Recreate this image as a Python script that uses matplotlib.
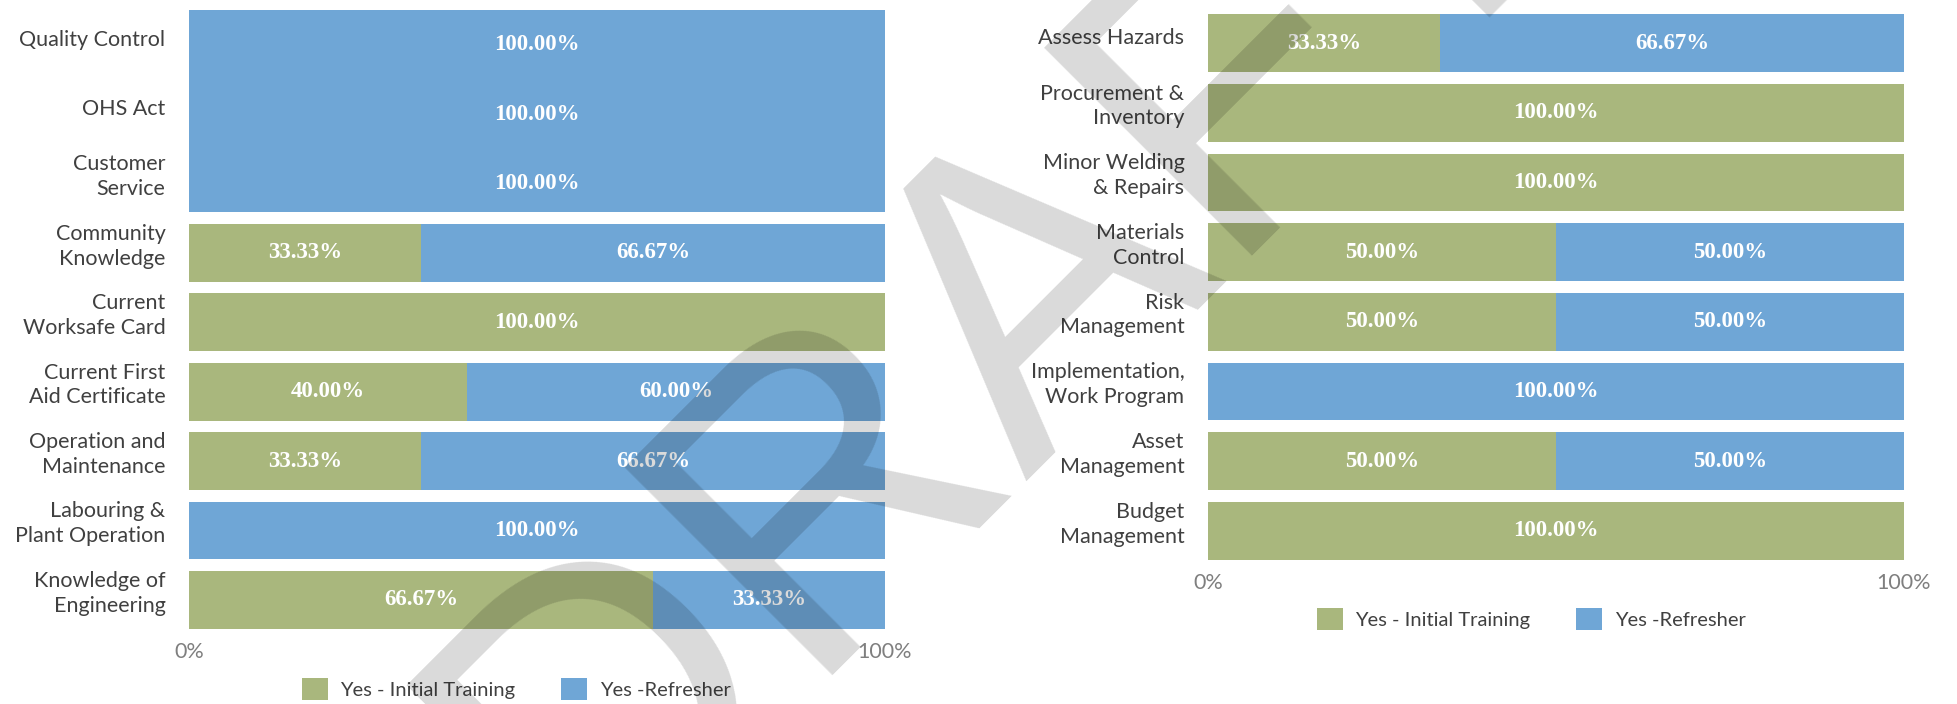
import matplotlib
matplotlib.use("Agg")
import matplotlib.pyplot as plt
from matplotlib.patches import Patch
import numpy as np

plt.rcParams["font.family"] = ["Lato", "DejaVu Sans"]

# Left panel: share of staff by training type
left_topics = [
    "Quality Control", "OHS Act", "Customer\nService", "Community\nKnowledge",
    "Current\nWorksafe Card", "Current First\nAid Certificate",
    "Operation and\nMaintenance", "Labouring &\nPlant Operation",
    "Knowledge of\nEngineering",
]
left_initial = [0.0, 0.0, 0.0, 33.33, 100.0, 40.0, 33.33, 0.0, 66.67]
left_refresher = [100.0, 100.0, 100.0, 66.67, 0.0, 60.0, 66.67, 100.0, 33.33]

# Right panel
right_topics = [
    "Assess Hazards", "Procurement &\nInventory", "Minor Welding\n& Repairs",
    "Materials\nControl", "Risk\nManagement", "Implementation,\nWork Program",
    "Asset\nManagement", "Budget\nManagement",
]
right_initial = [33.33, 100.0, 100.0, 50.0, 50.0, 0.0, 50.0, 100.0]
right_refresher = [66.67, 0.0, 0.0, 50.0, 50.0, 100.0, 50.0, 0.0]

series_names = ["Yes - Initial Training", "Yes -Refresher"]

# rows drawn as one continuous block, without the usual gap
joined_rows = {"Quality Control", "OHS Act", "Customer\nService"}

GREEN = "#A9B77D"
BLUE = "#6FA6D6"
LABEL_C = "#404040"
TICK_C = "#7F7F7F"
BAR_H = 0.83

W, H = 1957, 704


def bar_extents(topics):
    """Top/bottom y for each row; joined neighbours close the gap between them."""
    tops, bottoms = [], []
    n = len(topics)
    for i, t in enumerate(topics):
        top, bot = i - BAR_H / 2, i + BAR_H / 2
        if t in joined_rows:
            if i == 0 or topics[i - 1] in joined_rows:
                top = i - 0.5
            if i == n - 1 or topics[i + 1] in joined_rows:
                bot = i + 0.5
        tops.append(top)
        bottoms.append(bot)
    return np.array(tops), np.array(bottoms)


def draw_panel(ax, topics, initial, refresher):
    n = len(topics)
    ypos = np.arange(n)
    tops, bottoms = bar_extents(topics)
    centers = (tops + bottoms) / 2
    heights = bottoms - tops
    initial = np.asarray(initial)
    refresher = np.asarray(refresher)

    ax.barh(centers, initial, height=heights, color=GREEN, linewidth=0)
    ax.barh(centers, refresher, left=initial, height=heights, color=BLUE,
            linewidth=0)

    for i in range(n):
        for left, val in ((0.0, initial[i]), (initial[i], refresher[i])):
            if val > 0:
                ax.text(left + val / 2, ypos[i], f"{val:.2f}%",
                        ha="center", va="center", color="white",
                        fontsize=16.5, fontweight="bold",
                        family="Liberation Serif")

    ax.set_xlim(0, 100)
    ax.set_ylim(n - 0.5, -0.5)
    # category names sit a little above the bar centre, two-line ones more so
    lift = np.array([0.16 if "\n" in t else 0.1 for t in topics])
    ax.set_yticks(ypos - lift)
    ax.set_yticklabels(topics, fontsize=15.5, color=LABEL_C,
                       linespacing=1.3)
    ax.set_xticks([0, 100])
    ax.set_xticklabels(["0%", "100%"], fontsize=15.5, color=TICK_C)
    ax.tick_params(axis="y", length=0, pad=17)
    ax.tick_params(axis="x", length=0, pad=5)
    for side in ax.spines.values():
        side.set_visible(False)


def add_legend(fig, cx, cy):
    handles = [Patch(color=GREEN, linewidth=0), Patch(color=BLUE, linewidth=0)]
    fig.legend(handles, series_names, loc="center",
               bbox_to_anchor=(cx / W, 1 - cy / H), ncol=2, frameon=False,
               fontsize=14.5, labelcolor=LABEL_C, handlelength=1.3,
               handleheight=1.3, handletextpad=0.6, columnspacing=2.3)


fig = plt.figure(figsize=(W / 100, H / 100), dpi=100)

# axes placed in pixel terms, converted to figure fractions
ax_l = fig.add_axes([189 / W, 1 - 634.6 / H, 696 / W, 624.6 / H])
ax_r = fig.add_axes([1208 / W, 1 - 565.8 / H, 696 / W, 557.6 / H])

draw_panel(ax_l, left_topics, left_initial, left_refresher)
draw_panel(ax_r, right_topics, right_initial, right_refresher)

add_legend(fig, 516, 689)
add_legend(fig, 1531, 619)

# document watermark, centred on its baseline and tilted 45 degrees
fig.text(1083.3 / W, 1 - 389.6 / H, "DRAFT", rotation=45,
         rotation_mode="anchor", ha="center", va="baseline", fontsize=307.5,
         family="Liberation Sans", color="black", alpha=0.15, zorder=10)

fig.savefig("out.png", dpi=100)
